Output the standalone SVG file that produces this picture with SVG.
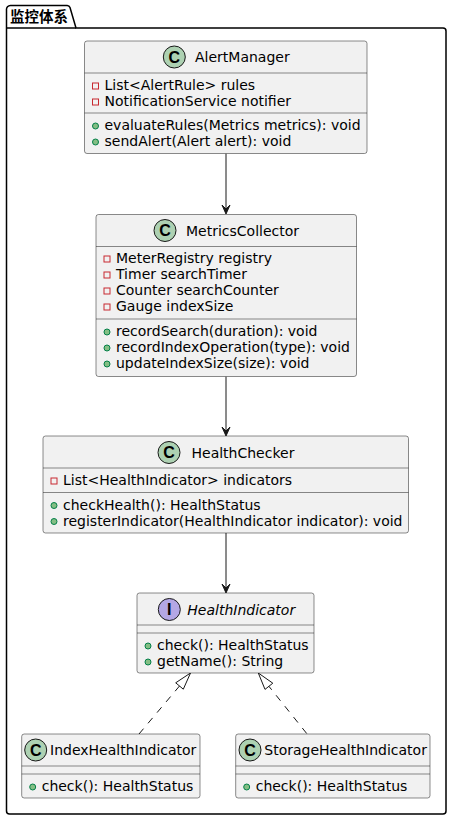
<svg xmlns="http://www.w3.org/2000/svg" width="453" height="821" viewBox="0 0 453 821">
<defs>
<style>
.box{fill:#F1F1F1;stroke:#181818;stroke-width:0.5}
.sep{stroke:#181818;stroke-width:0.5}
.t{font-family:"DejaVu Sans",sans-serif;font-size:14px;fill:#000}
.n{font-family:"DejaVu Sans",sans-serif;font-size:14px;fill:#000}
.ci{fill:#ADD1B2;stroke:#181818;stroke-width:1}
.ii{fill:#B4A7E5;stroke:#181818;stroke-width:1}
.L{font-family:"Liberation Sans",sans-serif;font-size:16px;font-weight:bold;fill:#000;text-anchor:middle}
.pv{fill:none;stroke:#C82930;stroke-width:1}
.pb{fill:#84BE84;stroke:#038048;stroke-width:1}
.ln{stroke:#181818;stroke-width:1;fill:none}
.dl{stroke:#181818;stroke-width:1;fill:none;stroke-dasharray:7,7}
</style>
</defs>
<g id="pkg">
<path d="M6.5,28 L6.5,10 A4,4 0 0 1 10.5,5.5 L67,5.5 A3,3 0 0 1 70,7.5 L76,28 L443,28 A3,3 0 0 1 446,31 L446,811 A3,3 0 0 1 443,814 L9.5,814 A3,3 0 0 1 6.5,811 Z" fill="none" stroke="#000" stroke-width="1.5"/>
<line x1="6.5" y1="28" x2="76" y2="28" stroke="#000" stroke-width="1.5"/>
<text x="10" y="21.5" font-family="'Noto Sans CJK SC',sans-serif" font-size="14.5" font-weight="bold">监控体系</text>
</g>
<g id="connectors">
<line class="ln" x1="226" y1="153.5" x2="226" y2="212"/>
<polygon points="226,214 222,205 226,209 230,205" fill="#181818" stroke="#181818"/>
<line class="ln" x1="226" y1="376.5" x2="226" y2="434"/>
<polygon points="226,436 222,427 226,431 230,427" fill="#181818" stroke="#181818"/>
<line class="ln" x1="226" y1="533" x2="226" y2="591"/>
<polygon points="226,593 222,584 226,588 230,584" fill="#181818" stroke="#181818"/>
<line class="dl" x1="139" y1="734" x2="179.5" y2="686"/>
<polygon points="190.5,673 175.7,682.8 183.3,689.2" fill="none" stroke="#181818"/>
<line class="dl" x1="306.7" y1="733.5" x2="268.9" y2="686.3"/>
<polygon points="258.3,673 272.8,683.2 265,689.4" fill="none" stroke="#181818"/>
</g>
<g id="AlertManager">
<rect class="box" x="84.5" y="41" width="282.5" height="112.5" rx="2.5"/>
<circle class="ci" cx="174.3" cy="57" r="11"/>
<text class="L" x="174.3" y="62.8">C</text>
<text class="n" x="195" y="62">AlertManager</text>
<line class="sep" x1="84.5" y1="73" x2="367" y2="73"/>
<rect class="pv" x="92.5" y="83" width="6" height="6"/>
<text class="t" x="104.5" y="90">List&lt;AlertRule&gt; rules</text>
<rect class="pv" x="92.5" y="99" width="6" height="6"/>
<text class="t" x="104.5" y="106">NotificationService notifier</text>
<line class="sep" x1="84.5" y1="113" x2="367" y2="113"/>
<circle class="pb" cx="95.5" cy="126" r="3"/>
<text class="t" x="104.5" y="130">evaluateRules(Metrics metrics): void</text>
<circle class="pb" cx="95.5" cy="142" r="3"/>
<text class="t" x="104.5" y="146">sendAlert(Alert alert): void</text>
</g>
<g id="MetricsCollector">
<rect class="box" x="96" y="214.5" width="260.5" height="162" rx="2.5"/>
<circle class="ci" cx="165" cy="230.5" r="11"/>
<text class="L" x="165" y="236.3">C</text>
<text class="n" x="186" y="235.5">MetricsCollector</text>
<line class="sep" x1="96" y1="246.5" x2="356.5" y2="246.5"/>
<rect class="pv" x="104" y="256" width="6" height="6"/>
<text class="t" x="116" y="263">MeterRegistry registry</text>
<rect class="pv" x="104" y="272" width="6" height="6"/>
<text class="t" x="116" y="279">Timer searchTimer</text>
<rect class="pv" x="104" y="288" width="6" height="6"/>
<text class="t" x="116" y="295">Counter searchCounter</text>
<rect class="pv" x="104" y="304" width="6" height="6"/>
<text class="t" x="116" y="311">Gauge indexSize</text>
<line class="sep" x1="96" y1="319" x2="356.5" y2="319"/>
<circle class="pb" cx="107" cy="332" r="3"/>
<text class="t" x="116" y="336">recordSearch(duration): void</text>
<circle class="pb" cx="107" cy="348" r="3"/>
<text class="t" x="116" y="352">recordIndexOperation(type): void</text>
<circle class="pb" cx="107" cy="364" r="3"/>
<text class="t" x="116" y="368">updateIndexSize(size): void</text>
</g>
<g id="HealthChecker">
<rect class="box" x="43" y="436" width="365.5" height="97" rx="2.5"/>
<circle class="ci" cx="169" cy="452.5" r="11"/>
<text class="L" x="169" y="458.3">C</text>
<text class="n" x="191.5" y="457.5">HealthChecker</text>
<line class="sep" x1="43" y1="468" x2="408.5" y2="468"/>
<rect class="pv" x="51" y="478" width="6" height="6"/>
<text class="t" x="63" y="485">List&lt;HealthIndicator&gt; indicators</text>
<line class="sep" x1="43" y1="492.5" x2="408.5" y2="492.5"/>
<circle class="pb" cx="54" cy="505.5" r="3"/>
<text class="t" x="63" y="509.5">checkHealth(): HealthStatus</text>
<circle class="pb" cx="54" cy="521.5" r="3"/>
<text class="t" x="63" y="525.5">registerIndicator(HealthIndicator indicator): void</text>
</g>
<g id="HealthIndicator">
<rect class="box" x="137" y="593" width="177" height="80" rx="2.5"/>
<circle class="ii" cx="169.3" cy="609.5" r="11"/>
<text class="L" x="169.3" y="615.3" font-family="'Liberation Serif',serif">I</text>
<text class="n" x="187.3" y="614.5" font-style="italic">HealthIndicator</text>
<line class="sep" x1="137" y1="625" x2="314" y2="625"/>
<line class="sep" x1="137" y1="633" x2="314" y2="633"/>
<circle class="pb" cx="148" cy="646" r="3"/>
<text class="t" x="157" y="650">check(): HealthStatus</text>
<circle class="pb" cx="148" cy="662" r="3"/>
<text class="t" x="157" y="666">getName(): String</text>
</g>
<g id="IndexHealthIndicator">
<rect class="box" x="21.7" y="734" width="178.3" height="64" rx="2.5"/>
<circle class="ci" cx="35.7" cy="750" r="11"/>
<text class="L" x="35.7" y="755.8">C</text>
<text class="n" x="50" y="755">IndexHealthIndicator</text>
<line class="sep" x1="21.7" y1="766" x2="200" y2="766"/>
<line class="sep" x1="21.7" y1="774" x2="200" y2="774"/>
<circle class="pb" cx="32.7" cy="787" r="3"/>
<text class="t" x="41.7" y="791">check(): HealthStatus</text>
</g>
<g id="StorageHealthIndicator">
<rect class="box" x="235.7" y="734" width="194.3" height="64" rx="2.5"/>
<circle class="ci" cx="250" cy="750" r="11"/>
<text class="L" x="250" y="755.8">C</text>
<text class="n" x="264.3" y="755">StorageHealthIndicator</text>
<line class="sep" x1="235.7" y1="766" x2="430" y2="766"/>
<line class="sep" x1="235.7" y1="774" x2="430" y2="774"/>
<circle class="pb" cx="246.7" cy="787" r="3"/>
<text class="t" x="255.7" y="791">check(): HealthStatus</text>
</g>
</svg>
